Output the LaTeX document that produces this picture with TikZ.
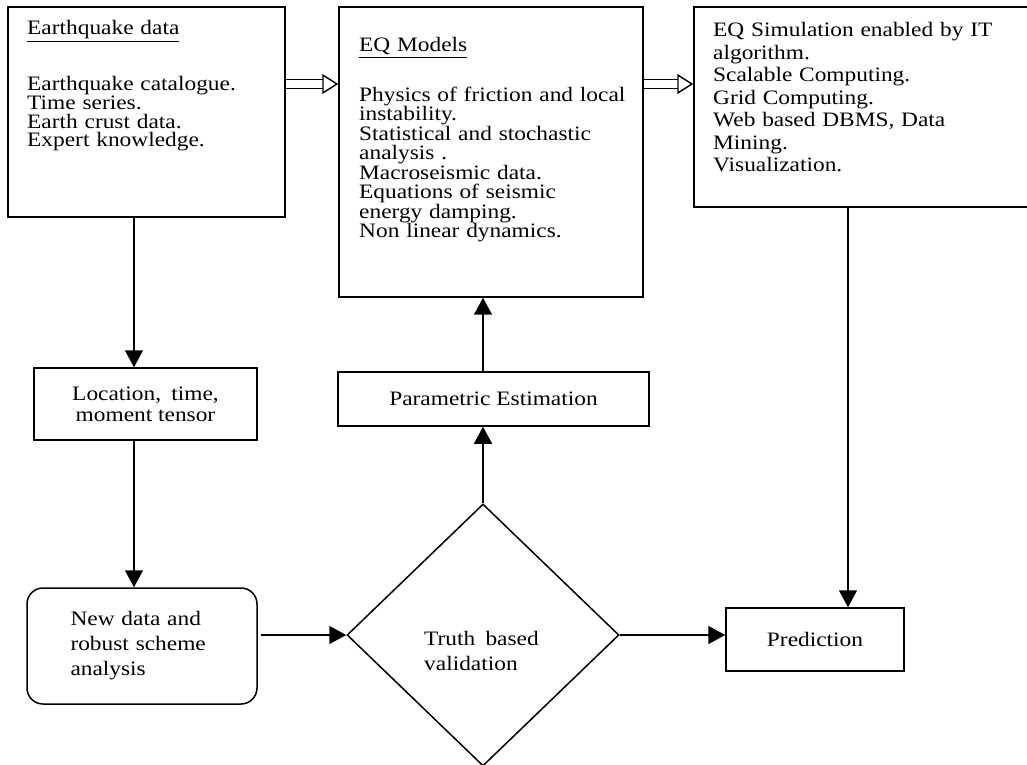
\documentclass[tikz,border=0pt]{standalone}
\usepackage{fontspec}
\setmainfont{Liberation Serif}[FakeStretch=1.14]
\usetikzlibrary{shapes.geometric,arrows.meta,calc}

\tikzset{
  box/.style={draw, line width=1.5pt, inner sep=0pt, font=\fontsize{20.5}{21}\selectfont},
  roundbox/.style={box, rounded corners=16pt},
  decision/.style={draw, diamond, line width=1.5pt, inner sep=0pt},
  txt/.style={inner sep=0pt, align=left, font=\fontsize{20.5}{#1}\selectfont},
  arr/.style={line width=1.5pt, -{Triangle[length=17pt,width=18pt]}},
  dblarr/.style={double, double distance=7.5pt, line width=1.4pt, -{Triangle[open,length=16pt,width=20pt]}},
}

\begin{document}
\begin{tikzpicture}[x=1pt,y=1pt]
    \useasboundingbox (0,0) rectangle (1027,764);
    \clip (0,0) rectangle (1027,764);

    % lanes of the vertical arrows
    \coordinate (leftlane) at (134,0);
    \coordinate (midlane) at (483,0);
    \coordinate (rightlane) at (848,0);
    \coordinate (toprow) at (0,680);

    % Top row
    \node[box, minimum width=277, minimum height=210] (eqdata) at (146.5,652) {};
    \node[box, minimum width=304, minimum height=290] (eqmodels) at (491,612) {};
    \node[box, minimum width=360, minimum height=200] (eqsim) at (874,657) {};

    \node[txt=18.6, text width=255, anchor=base west] (eqdatatxt) at (27,729)
        {\underline{Earthquake data}\\[34.4pt]Earthquake catalogue.\\Time series.\\Earth crust data.\\Expert knowledge.};
    \node[txt=19.5, text width=280, anchor=base west] (eqmodelstxt) at (359,712)
        {\underline{EQ Models}\\[28.5pt]Physics of friction and local\\instability.\\Statistical and stochastic\\analysis .\\Macroseismic data.\\Equations of seismic\\energy damping.\\Non linear dynamics.};
    \node[txt=22.5, text width=300, anchor=base west] (eqsimtxt) at (713,727.3)
        {\makebox[\linewidth][s]{EQ Simulation enabled by IT}\\algorithm.\\Scalable Computing.\\Grid Computing.\\Web based DBMS, Data\\Mining.\\Visualization.};

    % Middle and bottom
    \node[box, minimum width=223, minimum height=72, align=center] (loc) at (145.5,360)
        {Location,\enspace time,\\moment tensor};
    \node[box, minimum width=311, minimum height=54] (param) at (493.5,365) {Parametric Estimation};
    \node[roundbox, minimum width=230, minimum height=116, text width=143, align=left,
          font=\fontsize{20.5}{25}\selectfont] (newdata) at (142,118)
        {\makebox[\linewidth][s]{New data and}\\\makebox[\linewidth][s]{robust scheme}\\analysis};
    \node[decision, minimum width=272, minimum height=262] (truth) at (483,129) {};
    \node[txt=25, text width=125, anchor=base west] (truthtxt) at (424,119) {Truth\enspace based\\validation};
    \node[box, minimum width=178, minimum height=63] (pred) at (815,124.5) {Prediction};

    % Connectors
    \draw[dblarr] (eqdata.east |- toprow) -- (eqmodels.west |- toprow);
    \draw[dblarr] (eqmodels.east |- toprow) -- (eqsim.west |- toprow);
    \draw[arr] (eqdata.south -| leftlane) -- (loc.north -| leftlane);
    \draw[arr] (loc.south -| leftlane) -- (newdata.north -| leftlane);
    \draw[arr, shorten <=3pt] (newdata.east |- truth.west) -- (truth.west);
    \draw[arr] (truth.north) -- (param.south -| truth.north);
    \draw[arr] (param.north -| midlane) -- (eqmodels.south -| midlane);
    \draw[arr] (truth.east) -- (truth.east -| pred.west);
    \draw[arr] (eqsim.south -| rightlane) -- (pred.north -| rightlane);
\end{tikzpicture}
\end{document}
